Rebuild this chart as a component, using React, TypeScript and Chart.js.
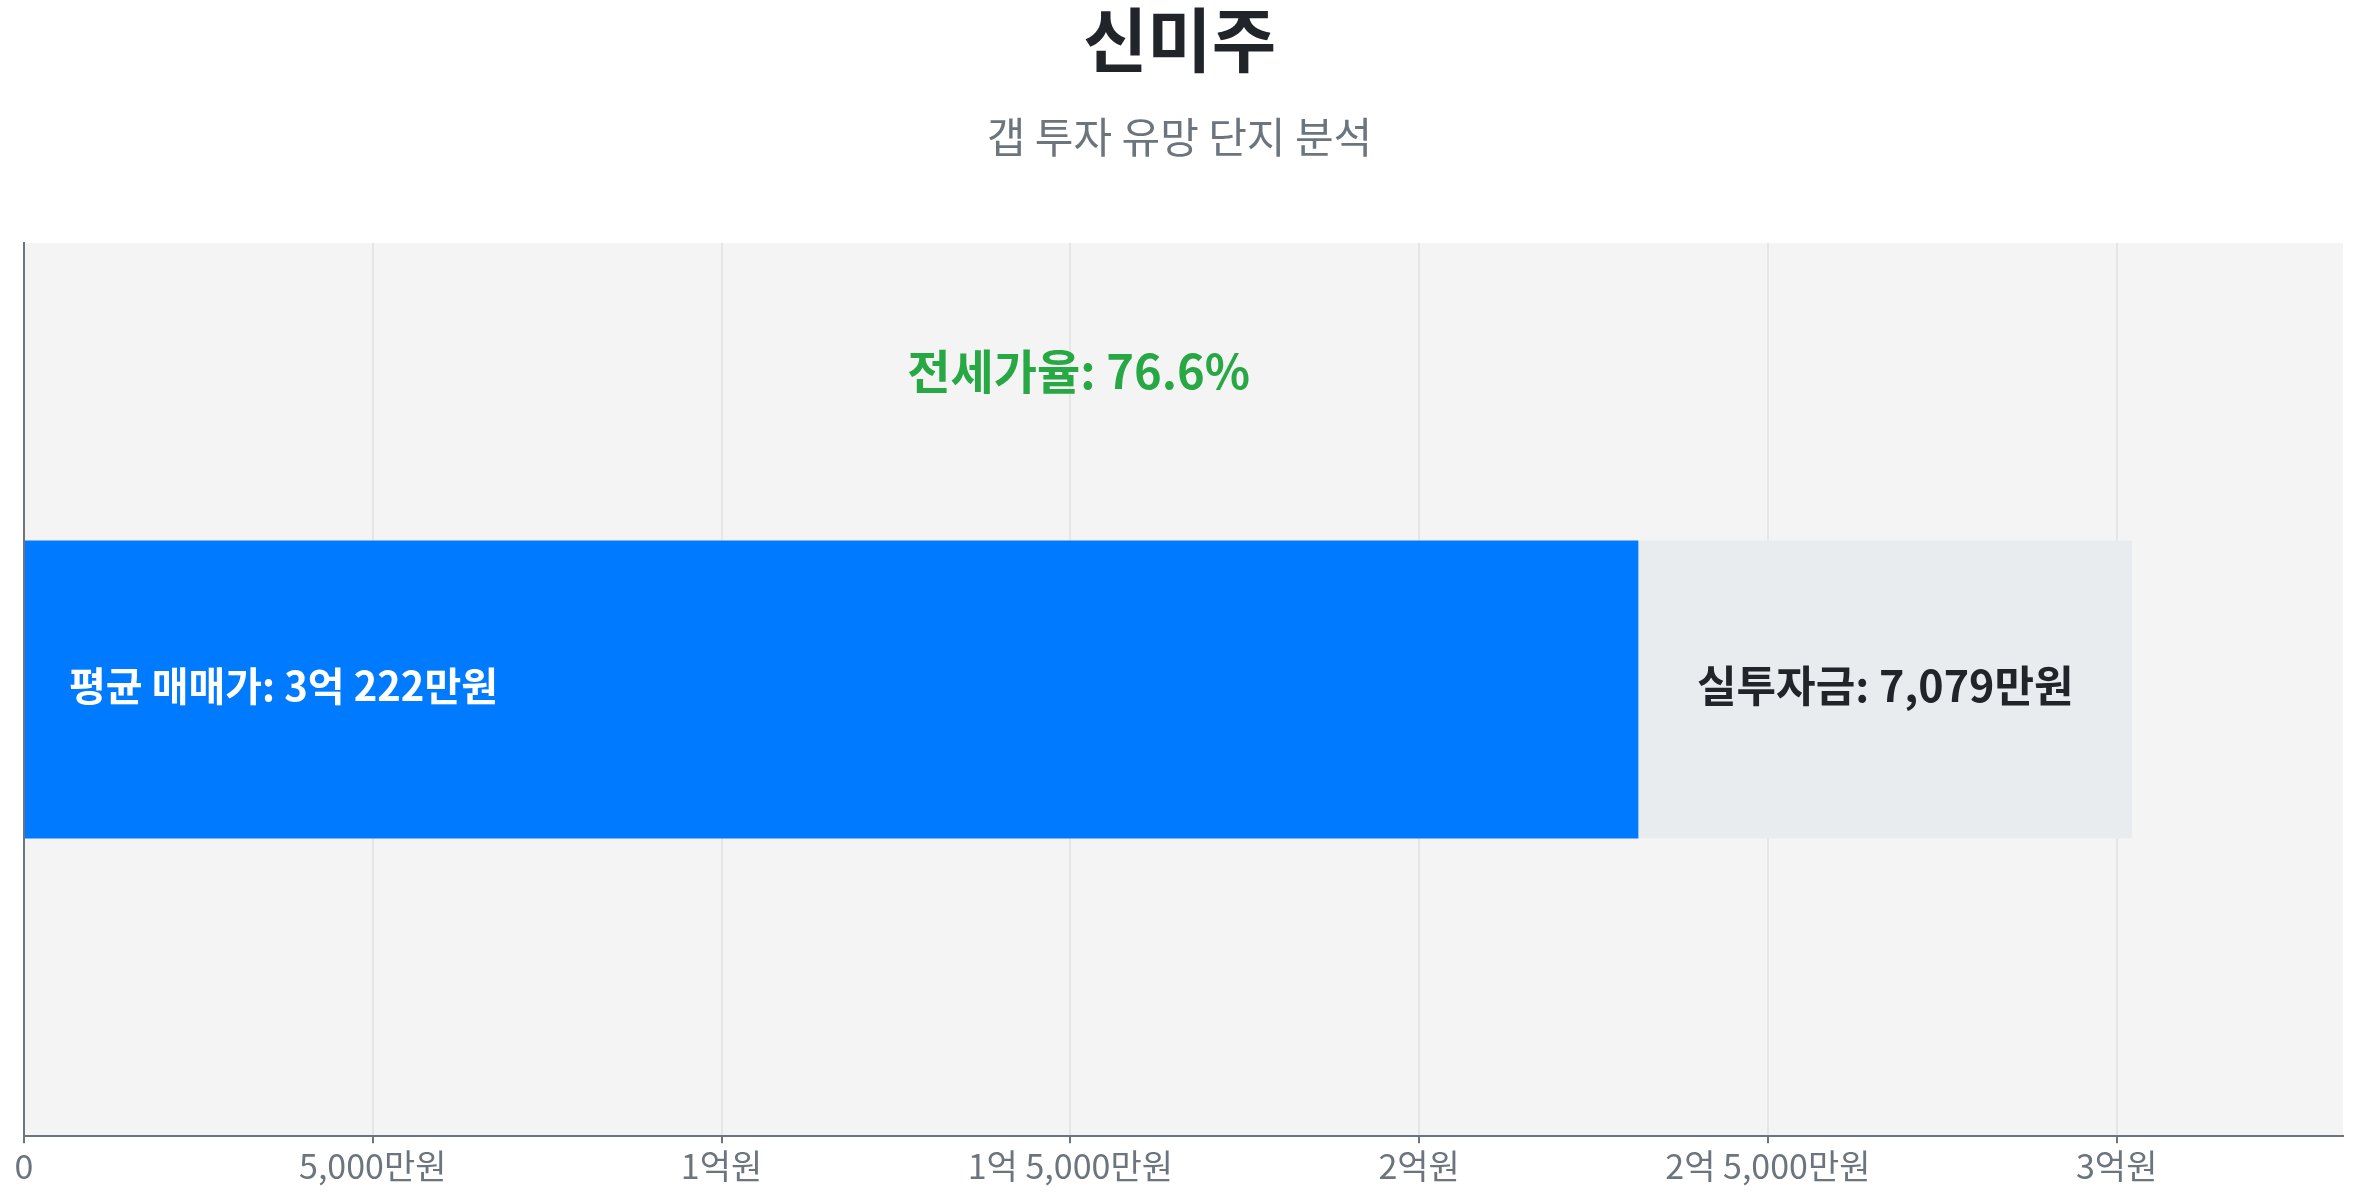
import { useEffect, useRef } from "react"
import { Chart, type ChartConfiguration, type Plugin, registerables } from "chart.js"

Chart.register(...registerables)

const FONT = "'Noto Sans CJK KR', 'Noto Sans', sans-serif"

// values in 만원
const categories = ["신미주"]
const jeonsePrice = [23143]
const gapAmount = [7079]
const salePrice = [30222]
const jeonseRatio = [76.6]
const tickValues = [0, 5000, 10000, 15000, 20000, 25000, 30000]
const tickLabels = ["0", "5,000만원", "1억원", "1억 5,000만원", "2억원", "2억 5,000만원", "3억원"]

function formatManwon(v: number) {
  const eok = Math.floor(v / 10000)
  const rest = v % 10000
  if (eok > 0 && rest > 0) return `${eok}억 ${rest.toLocaleString("en-US")}만원`
  if (eok > 0) return `${eok}억원`
  return `${rest.toLocaleString("en-US")}만원`
}

const areaBackground: Plugin = {
  id: "areaBackground",
  beforeDraw(chart) {
    const { ctx, chartArea } = chart
    ctx.save()
    ctx.fillStyle = "#f4f4f4"
    ctx.fillRect(chartArea.left, chartArea.top, chartArea.right - chartArea.left, chartArea.bottom - chartArea.top)
    ctx.restore()
  },
}

const barLabels: Plugin = {
  id: "barLabels",
  afterDatasetsDraw(chart) {
    const { ctx, chartArea } = chart
    const blue: any = chart.getDatasetMeta(0).data[0]
    const grey: any = chart.getDatasetMeta(1).data[0]
    if (!blue || !grey) return
    const y = blue.y - 4
    const top = blue.y - blue.height / 2

    ctx.save()
    ctx.textBaseline = "middle"

    // inside the blue bar
    ctx.font = `bold 40px ${FONT}`
    ctx.fillStyle = "#ffffff"
    ctx.textAlign = "left"
    ctx.fillText(`평균 매매가: ${formatManwon(salePrice[0])}`, blue.base + 44, y)

    // inside the grey bar
    ctx.font = `bold 43px ${FONT}`
    ctx.fillStyle = "#212529"
    ctx.textAlign = "center"
    ctx.fillText(`실투자금: ${formatManwon(gapAmount[0])}`, (grey.base + grey.x) / 2, y)

    // ratio above the bar
    ctx.font = `bold 47px ${FONT}`
    ctx.fillStyle = "#28a745"
    ctx.fillText(`전세가율: ${jeonseRatio[0]}%`, (blue.base + grey.x) / 2, chartArea.top + (top - chartArea.top) * 0.43)
    ctx.restore()
  },
}

export default function App() {
  const chartRef = useRef<HTMLCanvasElement>(null)
  const chartInstance = useRef<Chart | null>(null)

  useEffect(() => {
    if (!chartRef.current) return
    const ctx = chartRef.current.getContext("2d")
    if (!ctx) return

    if (chartInstance.current) {
      chartInstance.current.destroy()
    }

    Chart.defaults.font.family = FONT

    const config: ChartConfiguration = {
      type: "bar",
      data: {
        labels: categories,
        datasets: [
          {
            label: "전세가",
            data: jeonsePrice,
            backgroundColor: "#007bff",
            borderWidth: 0,
            barPercentage: 0.5,
            categoryPercentage: 0.667,
          },
          {
            label: "실투자금",
            data: gapAmount,
            backgroundColor: "#e9ecef",
            borderWidth: 0,
            barPercentage: 0.5,
            categoryPercentage: 0.667,
          },
        ],
      },
      options: {
        indexAxis: "y",
        animation: false,
        responsive: true,
        maintainAspectRatio: false,
        layout: {
          padding: { left: 16, right: 14, top: 0, bottom: 12 },
        },
        scales: {
          x: {
            stacked: true,
            bounds: "data",
            min: 0,
            max: salePrice[0] * 1.1,
            afterBuildTicks: (scale) => {
              scale.ticks = tickValues.map((value) => ({ value }))
            },
            border: { display: true, color: "#6c757d", width: 2 },
            grid: {
              display: true,
              color: "#e6e6e6",
              lineWidth: 2,
              drawTicks: true,
              tickLength: 7,
              tickColor: "#6c757d",
              tickWidth: 2,
            },
            ticks: {
              maxRotation: 0,
              autoSkip: false,
              padding: 2,
              color: "#6c757d",
              font: { size: 34, family: FONT },
              callback: (_v, i) => tickLabels[i] ?? "",
            },
          },
          y: {
            stacked: true,
            border: { display: true, color: "#6c757d", width: 2 },
            grid: { display: false },
            ticks: { display: false },
          },
        },
        plugins: {
          legend: { display: false },
          tooltip: { enabled: false },
          title: {
            display: true,
            text: categories[0],
            color: "#212529",
            font: { size: 70, weight: "bold", family: FONT, lineHeight: 1.15 },
            padding: { top: 0, bottom: 31 },
          },
          subtitle: {
            display: true,
            text: "갭 투자 유망 단지 분석",
            color: "#6c757d",
            font: { size: 42, family: FONT, lineHeight: 1.2 },
            padding: { top: 0, bottom: 81 },
          },
        },
      },
      plugins: [areaBackground, barLabels],
    }

    chartInstance.current = new Chart(ctx, config)

    return () => {
      if (chartInstance.current) {
        chartInstance.current.destroy()
        chartInstance.current = null
      }
    }
  }, [])

  return (
    <div style={{ position: "fixed", left: 0, top: 0, width: "100vw", height: "100vh", background: "#fff" }}>
      <canvas ref={chartRef} />
    </div>
  )
}
